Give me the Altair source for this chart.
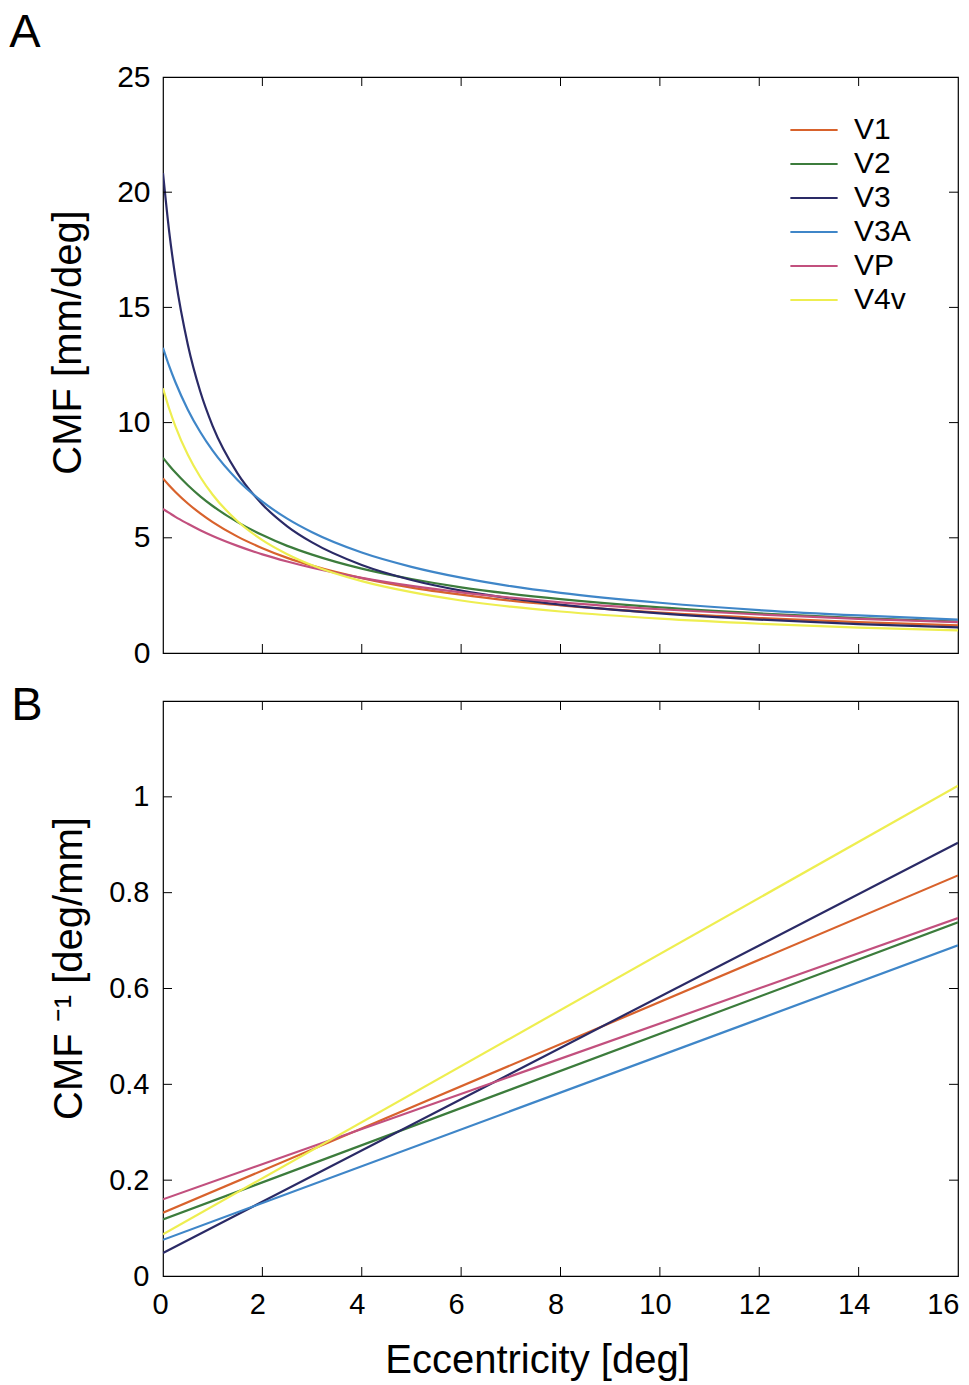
import altair as alt
import pandas as pd

FONT = "Liberation Sans"

areas = ["V1", "V2", "V3", "V3A", "VP", "V4v"]
colors = ["#d8622c", "#3c7c3c", "#2a2a66", "#3f86c8", "#c2507e", "#eeee50"]

# Panel A: CMF [mm/deg] read at these eccentricities
ecc_a = [0, 0.125, 0.25, 0.5, 0.75, 1, 1.5, 2, 2.5, 3, 4, 5, 6, 7, 8, 10, 12, 14, 16]
cmf_V1 = [7.58, 7.27, 6.99, 6.49, 6.06, 5.68, 5.05, 4.55, 4.13, 3.79, 3.25, 2.84, 2.53, 2.27, 2.07, 1.75, 1.52, 1.34, 1.20]
cmf_V2 = [8.47, 8.14, 7.83, 7.28, 6.80, 6.38, 5.68, 5.12, 4.65, 4.27, 3.66, 3.21, 2.85, 2.57, 2.34, 1.98, 1.72, 1.51, 1.36]
cmf_V3 = [20.83, 18.28, 16.29, 13.38, 11.35, 9.85, 7.80, 6.45, 5.50, 4.80, 3.82, 3.17, 2.71, 2.37, 2.10, 1.72, 1.45, 1.25, 1.11]
cmf_V3A = [13.25, 12.45, 11.75, 10.56, 9.59, 8.78, 7.51, 6.57, 5.83, 5.24, 4.36, 3.74, 3.27, 2.90, 2.61, 2.18, 1.86, 1.63, 1.45]
cmf_VP = [6.25, 6.08, 5.91, 5.61, 5.33, 5.08, 4.65, 4.28, 3.97, 3.70, 3.26, 2.91, 2.63, 2.40, 2.20, 1.90, 1.67, 1.48, 1.34]
cmf_V4v = [11.49, 10.60, 9.84, 8.60, 7.64, 6.87, 5.72, 4.90, 4.29, 3.81, 3.12, 2.64, 2.28, 2.01, 1.80, 1.49, 1.27, 1.10, 0.98]

# Panel B: CMF^-1 [deg/mm] (straight lines, read at both ends)
ecc_b = [0, 16]
inv_V1 = [0.132, 0.836]
inv_V2 = [0.118, 0.738]
inv_V3 = [0.048, 0.904]
inv_V3A = [0.0755, 0.690]
inv_VP = [0.160, 0.747]
inv_V4v = [0.087, 1.023]

x_ticks = [0, 2, 4, 6, 8, 10, 12, 14, 16]
x_inner_ticks = [2, 4, 6, 8, 10, 12, 14]
a_y_ticks = [0, 5, 10, 15, 20, 25]
a_inner_ticks = [5, 10, 15, 20]
b_y_ticks = [0, 0.2, 0.4, 0.6, 0.8, 1.0]
b_inner_ticks = [0.2, 0.4, 0.6, 0.8, 1.0]

cmf = {"V1": cmf_V1, "V2": cmf_V2, "V3": cmf_V3, "V3A": cmf_V3A, "VP": cmf_VP, "V4v": cmf_V4v}
inv = {"V1": inv_V1, "V2": inv_V2, "V3": inv_V3, "V3A": inv_V3A, "VP": inv_VP, "V4v": inv_V4v}

df_a = pd.DataFrame([{"area": a, "ecc": e, "v": v} for a in areas for e, v in zip(ecc_a, cmf[a])])
df_b = pd.DataFrame([{"area": a, "ecc": e, "v": v} for a in areas for e, v in zip(ecc_b, inv[a])])

W, HA, HB = 795, 576, 575
TL = 9

xscale = alt.Scale(domain=[0, 16], nice=False, zero=False)
ya_scale = alt.Scale(domain=[0, 25], nice=False)
yb_scale = alt.Scale(domain=[0, 1.2], nice=False)
cscale = alt.Scale(domain=areas, range=colors)


def inner_ticks(xt, yt, yscale, H):
    dx = pd.DataFrame({"t": xt})
    dy = pd.DataFrame({"t": yt})
    bot = alt.Chart(dx).mark_rule(color="black", strokeWidth=1).encode(
        x=alt.X("t:Q", scale=xscale, axis=None), y=alt.value(H - TL), y2=alt.value(H))
    top = alt.Chart(dx).mark_rule(color="black", strokeWidth=1).encode(
        x=alt.X("t:Q", scale=xscale, axis=None), y=alt.value(0), y2=alt.value(TL))
    left = alt.Chart(dy).mark_rule(color="black", strokeWidth=1).encode(
        y=alt.Y("t:Q", scale=yscale, axis=None), x=alt.value(0), x2=alt.value(TL))
    right = alt.Chart(dy).mark_rule(color="black", strokeWidth=1).encode(
        y=alt.Y("t:Q", scale=yscale, axis=None), x=alt.value(W - TL), x2=alt.value(W))
    return [bot, top, left, right]


lines_a = alt.Chart(df_a).mark_line(strokeWidth=2.2, interpolate="monotone", clip=True).encode(
    x=alt.X("ecc:Q", scale=xscale,
            axis=alt.Axis(labels=False, ticks=False, domain=False, grid=False, title=None)),
    y=alt.Y("v:Q", scale=ya_scale,
            axis=alt.Axis(values=a_y_ticks, ticks=False, tickSize=0, domain=False, grid=False,
                          labelFontSize=30, labelPadding=13, labelFont=FONT, labelColor="black",
                          labelFlush=False,
                          title="CMF [mm/deg]", titleFontSize=40, titleFont=FONT,
                          titleFontWeight="normal", titleColor="black",
                          titleX=-95, titleY=265, titleAngle=-90,
                          titleAlign="center", titleBaseline="middle")),
    color=alt.Color("area:N", scale=cscale, sort=areas,
                    legend=alt.Legend(title=None, orient="none", legendX=632, legendY=34,
                                      symbolType="M-1.35,0L1.35,0", symbolSize=1225,
                                      symbolStrokeWidth=2.2, labelFontSize=30, labelFont=FONT,
                                      labelColor="black", labelOffset=21, rowPadding=0,
                                      padding=0)),
    detail="area:N",
)

label_a = alt.Chart(pd.DataFrame({"t": ["A"]})).mark_text(
    fontSize=47, font=FONT, color="black", align="center", baseline="alphabetic").encode(
    text="t:N", x=alt.value(-138), y=alt.value(-30))

panel_a = alt.layer(
    lines_a, *inner_ticks(x_inner_ticks, a_inner_ticks, ya_scale, HA), label_a
).resolve_axis(x="independent", y="independent").properties(width=W, height=HA)

lines_b = alt.Chart(df_b).mark_line(strokeWidth=2.2, clip=True).encode(
    x=alt.X("ecc:Q", scale=xscale,
            axis=alt.Axis(values=x_ticks, ticks=False, tickSize=0, domain=False, grid=False,
                          labelFontSize=29, labelPadding=14, labelOffset=-5, labelFlush=True,
                          labelFlushOffset=6, labelFont=FONT, labelColor="black",
                          title="Eccentricity [deg]", titleFontSize=40, titleFont=FONT,
                          titleFontWeight="normal", titleColor="black",
                          titleX=374, titleY=84, titleAlign="center", titleBaseline="middle")),
    y=alt.Y("v:Q", scale=yb_scale,
            axis=alt.Axis(values=b_y_ticks, format="~g", ticks=False, tickSize=0, domain=False,
                          grid=False, labelFontSize=29, labelPadding=14, labelFont=FONT,
                          labelColor="black", labelFlush=False,
                          title="CMF \u207b\u00b9 [deg/mm]", titleFontSize=40, titleFont=FONT,
                          titleFontWeight="normal", titleColor="black",
                          titleX=-94, titleY=267, titleAngle=-90,
                          titleAlign="center", titleBaseline="middle")),
    color=alt.Color("area:N", scale=cscale, sort=areas, legend=None),
    detail="area:N",
)

label_b = alt.Chart(pd.DataFrame({"t": ["B"]})).mark_text(
    fontSize=47, font=FONT, color="black", align="center", baseline="alphabetic").encode(
    text="t:N", x=alt.value(-136), y=alt.value(19))

panel_b = alt.layer(
    lines_b, *inner_ticks(x_inner_ticks, b_inner_ticks, yb_scale, HB), label_b
).resolve_axis(x="independent", y="independent").properties(width=W, height=HB)

chart = alt.vconcat(panel_a, panel_b, spacing=48, bounds="flush").resolve_scale(
    color="independent").properties(
    padding={"left": 0, "top": 0, "right": 0, "bottom": 0},
    background="white",
).configure_view(stroke="black", strokeWidth=1.2).configure_axis(labelFont=FONT, titleFont=FONT)

chart.save("out.html", embed_options={"renderer": "svg", "actions": False})
